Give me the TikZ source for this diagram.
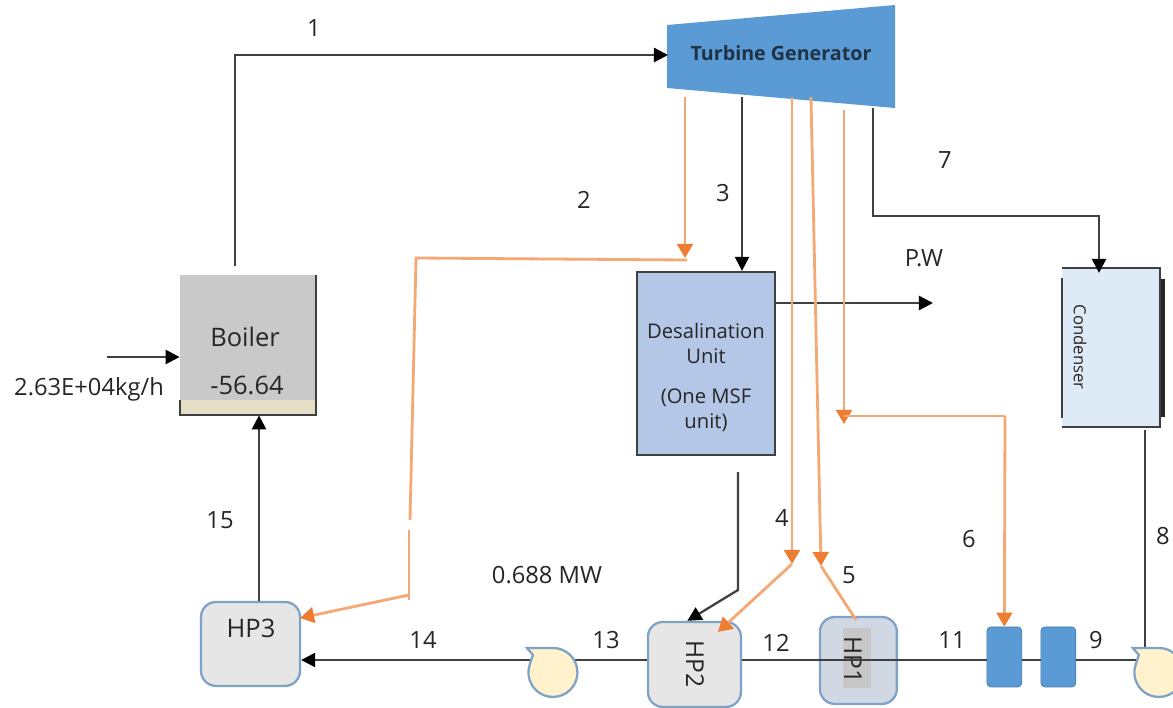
\documentclass[tikz,border=0pt]{standalone}
\usepackage{fontspec}
\setmainfont{Open Sans}
\usetikzlibrary{positioning,calc,arrows.meta}
\definecolor{linegray}{HTML}{404040}
\definecolor{steamorange}{HTML}{F4A873}
\definecolor{tiporange}{HTML}{ED7D31}
\definecolor{turbineblue}{HTML}{5B9BD5}
\definecolor{turbinetext}{HTML}{1F3345}
\definecolor{hpedge}{HTML}{7FA3C7}
\definecolor{desalblue}{HTML}{B4C7E7}
\definecolor{condblue}{HTML}{DEEAF6}
\definecolor{pumpyellow}{HTML}{FFF2CC}
\definecolor{hpgray}{HTML}{E6E6E6}
\definecolor{hponeblue}{HTML}{D0D8E4}
\definecolor{boilerstrip}{HTML}{E6DFC8}
\tikzstyle{arrow} = [line width=1.3pt,linegray,-{Triangle[length=8pt,width=8pt,color=black]}]
\tikzstyle{plain} = [line width=1.3pt,linegray]
\tikzstyle{steam} = [line width=1.6pt,steamorange]
\tikzstyle{steamarrow} = [line width=1.6pt,steamorange,-{Triangle[length=8pt,width=9pt,color=tiporange]}]
\tikzstyle{lbl} = [text=black!85,font=\fontsize{13.5}{16}\selectfont,inner sep=0pt]
\tikzstyle{midlbl} = [lbl,font=\fontsize{11.5}{14}\selectfont]
\tikzstyle{hpbox} = [draw=hpedge,line width=1.3pt,rounded corners=0.3cm,fill=hpgray,inner sep=0pt]
\tikzstyle{heater} = [draw=turbineblue!80!black,fill=turbineblue,rounded corners=0.08cm,minimum width=0.7cm,minimum height=1.2cm]
\tikzstyle{pumpbody} = [draw=hpedge,line width=1.3pt,fill=pumpyellow]
\tikzset{pumpshape/.pic={
	\path[pumpbody] (-26,-24) -- (0,-24) arc[start angle=270,end angle=560,radius=24.5] -- (-20,-17) -- cycle;
}}

\begin{document}
\begin{tikzpicture}[x=0.02cm,y=-0.02cm,on grid]
	\useasboundingbox (0,0) rectangle (1173,707);
	\coordinate (ml) at (0,660);

	\node[fill=black!21,minimum width=2.72cm,minimum height=2.8cm,inner sep=0pt] at (248,345) (boiler){};
	\node[draw=linegray,line width=1.3pt,fill=desalblue,minimum width=2.76cm,minimum height=3.66cm][below right=0.37cm and 9.16cm of boiler](desal){};
	\node[fill=condblue,minimum width=1.96cm,minimum height=3.18cm][above right=0.32cm and 8.1cm of desal](cond){};
	\node[hpbox,minimum width=1.98cm,minimum height=1.68cm][below right=5.98cm and 0.05cm of boiler](hp3){};
	\node[hpbox,minimum width=1.86cm,minimum height=1.7cm][below left=6.02cm and 0.23cm of desal](hp2){};
	\node[hpbox,fill=hponeblue,minimum width=1.54cm,minimum height=1.74cm][above right=0.08cm and 3.28cm of hp2](hp1){};
	\node[heater][above right=0.07cm and 2.92cm of hp1](b1){};
	\node[heater][right=1.08cm of b1](b2){};
	\coordinate[below left=0.15cm and 2.83cm of hp2](pump1);
	\coordinate[below right=0.3cm and 2.01cm of b2](pump2);

	\fill[turbineblue] (667,25) -- (895,5) -- (895,108) -- (667,88) -- cycle;
	\fill[boilerstrip] (boiler.south west) rectangle ([yshift=0.3cm]boiler.south east);
	\draw[plain] (boiler.north east) -- (boiler.south east) -- (boiler.south west) -- ++(0,-15);
	\draw[plain] (cond.north west) -- (cond.north east) -- (cond.south east) -- (cond.south west);
	\draw[plain] (1062,278) -- (1062,418);
	\draw[plain,line width=1.8pt,black!85] (1163,279) -- (1163,417);
	\fill[black!22] (843,628) rectangle (871,688);

	\node[lbl,font=\fontsize{11.2}{14}\selectfont\bfseries,text=turbinetext] at (781,53) (tg){Turbine Generator};
	\node[lbl,font=\fontsize{14.5}{17}\selectfont] at (245,337) (boilertxt){Boiler};
	\node[lbl,font=\fontsize{14.5}{17}\selectfont] at (247,385) (boilerval){-56.64};
	\node[midlbl] at (706,331) (d1){Desalination};
	\node[midlbl] at (706,356) (d2){Unit};
	\node[midlbl] at (706,398) (d3){(One MSF};
	\node[midlbl] at (706,423) (d4){unit)};
	\node[midlbl,rotate=-90,font=\fontsize{9.5}{12}\selectfont] at (1080,347) (condtxt){Condenser};
	\node[lbl,font=\fontsize{14.5}{17}\selectfont] at (251,628) (hp3txt){HP3};
	\node[lbl,font=\fontsize{14}{17}\selectfont,rotate=-90] at (695,664) (hp2txt){HP2};
	\node[lbl,font=\fontsize{14}{17}\selectfont,rotate=-90] at (853,660) (hp1txt){HP1};

	\node[lbl] at (314,28) (l_1){1};
	\node[lbl] at (584,200) (l_2){2};
	\node[lbl] at (723,193) (l_3){3};
	\node[lbl] at (782,518) (l_4){4};
	\node[lbl] at (849,575) (l_5){5};
	\node[lbl] at (969,539) (l_6){6};
	\node[lbl] at (945,160) (l_7){7};
	\node[lbl] at (1163,536) (l_8){8};
	\node[lbl] at (1096,640) (l_9){9};
	\node[lbl] at (952,640) (l_11){11};
	\node[lbl] at (776,643) (l_12){12};
	\node[lbl] at (606,640) (l_13){13};
	\node[lbl] at (423,640) (l_14){14};
	\node[lbl] at (220,520) (l_15){15};
	\node[lbl] at (924,258) (pw){P.W};
	\node[lbl] at (547,575) (mw){0.688 MW};
	\node[lbl] at (89,389) (flow){2.63E+04kg/h};

	\coordinate (c_1) at (235,266);
	\coordinate (c_1a) at (235,55);
	\coordinate (c_1b) at (668,55);
	\coordinate (c_feed) at (107,357);
	\coordinate (c_2a) at (685,97);
	\coordinate (c_2b) at (685,258);
	\coordinate (c_2c) at (687,260);
	\coordinate (c_2d) at (416,258);
	\coordinate (c_2e) at (410,520);
	\coordinate (c_2f) at (409,530);
	\coordinate (c_2g) at (409,600);
	\coordinate (c_2h) at (409,595);
	\coordinate (c_2i) at (300,618);
	\coordinate (c_15) at (259,0);
	\coordinate (c_3a) at (742,97);
	\coordinate (c_pw) at (933,303);
	\coordinate (c_4a) at (792,97);
	\coordinate (c_4b) at (792,564);
	\coordinate (c_4c) at (718,632);
	\coordinate (c_5a) at (811,97);
	\coordinate (c_5b) at (821,566);
	\coordinate (c_5c) at (856,620);
	\coordinate (c_6a) at (844,110);
	\coordinate (c_6b) at (844,424);
	\coordinate (c_6c) at (1005,416);
	\coordinate (c_6d) at (844,416);
	\coordinate (c_7a) at (873,108);
	\coordinate (c_7b) at (873,216);
	\coordinate (c_7c) at (1099,216);
	\coordinate (c_8a) at (1145,430);
	\coordinate (c_da) at (738,472);
	\coordinate (c_db) at (738,590);

	\draw[arrow] (c_1) -- (c_1a) -- (c_1b);
	\draw[arrow] (c_feed) -- (boiler.west |- c_feed);
	\draw[arrow] (hp3.north -| c_15) -- (boiler.south -| c_15);
	\draw[arrow] (c_3a) -- (desal.north -| c_3a);
	\draw[arrow] (desal.east |- c_pw) -- (c_pw);
	\draw[arrow] (c_7a) -- (c_7b) -- (c_7c) -- ([yshift=-3pt]cond.north -| c_7c);
	\draw[plain] (c_8a) -- (c_8a |- ml);
	\draw[arrow] (c_da) -- (c_db) -- ([xshift=-4pt]hp2.north);

	\draw[plain] (pump2 |- ml) -- (b2.east |- ml);
	\draw[plain] (b2.west |- ml) -- (b1.east |- ml);
	\draw[plain] (b1.west |- ml) -- (hp2.east |- ml);
	\draw[plain] (hp2.west |- ml) -- (pump1 |- ml);
	\draw[arrow] (pump1 |- ml) -- (hp3.east |- ml);
	\path (pump1) pic {pumpshape};
	\path (pump2) pic {pumpshape};

	\draw[steamarrow] (c_2a) -- (c_2b);
	\draw[steam] (c_2c) -- (c_2d) -- (c_2e);
	\draw[steam] (c_2f) -- (c_2g);
	\draw[steamarrow] (c_2h) -- (c_2i);
	\draw[steamarrow] (c_4a) -- (c_4b);
	\draw[steamarrow] (c_4b) -- (c_4c);
	\draw[steamarrow] (c_5a) -- (c_5b);
	\draw[steam] (c_5c) -- (c_5b);
	\draw[steamarrow] (c_6a) -- (c_6b);
	\draw[steam] (c_6d) -- (c_6c);
	\draw[steamarrow] (c_6c) -- (b1.north);
\end{tikzpicture}
\end{document}
